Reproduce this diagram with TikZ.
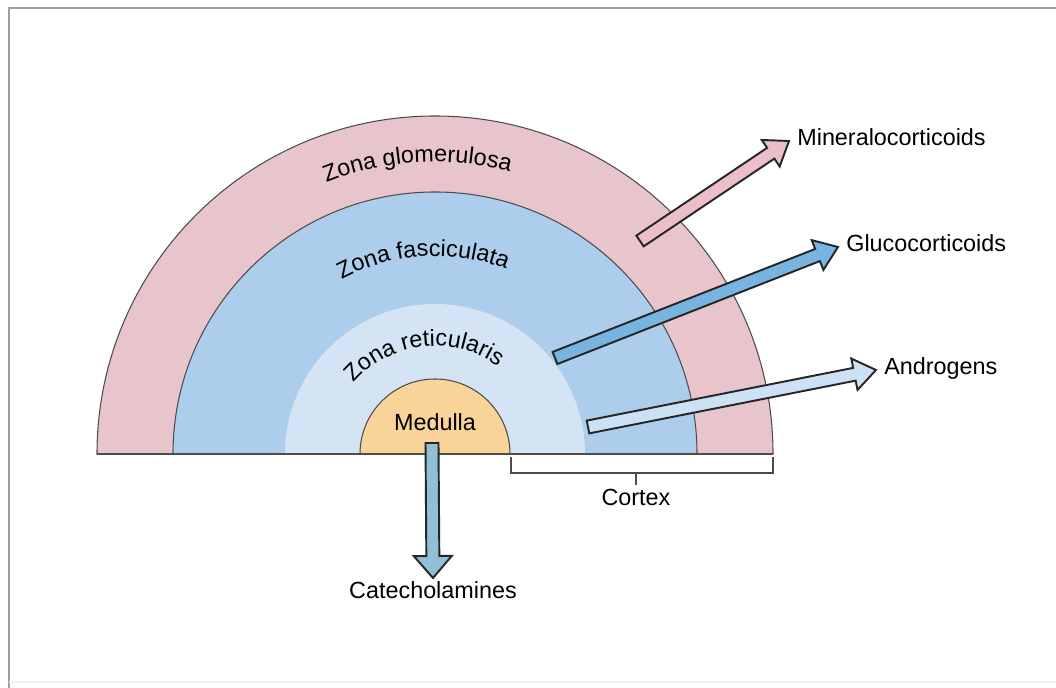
\documentclass[tikz,border=0pt]{standalone}
\usepackage{fontspec}
\setmainfont{Liberation Sans}
\usetikzlibrary{calc, decorations.text}

\definecolor{glomcol}{RGB}{232,196,204}
\definecolor{fasccol}{RGB}{172,205,235}
\definecolor{retcol}{RGB}{212,228,244}
\definecolor{medcol}{RGB}{248,212,152}
\definecolor{minarrow}{RGB}{236,190,202}
\definecolor{gluarrow}{RGB}{120,180,225}
\definecolor{andarrow}{RGB}{205,225,245}
\definecolor{catarrow}{RGB}{145,192,212}

\newcommand{\lblfont}{\fontsize{13.3}{16}\selectfont}
% block arrow: fill colour, tail, tip, half width of the head
\newcommand{\blockarrow}[4]{%
  \coordinate (ahead) at ($(#3)!0.44cm!(#2)$);
  \filldraw[harrow, fill=#1] ($(#2)!0.13cm!90:(#3)$) -- ($(ahead)!0.13cm!90:(#3)$)
    -- ($(ahead)!#4!90:(#3)$) -- (#3) -- ($(ahead)!#4!-90:(#3)$)
    -- ($(ahead)!0.13cm!-90:(#3)$) -- ($(#2)!0.13cm!-90:(#3)$) -- cycle;}

\begin{document}
\begin{tikzpicture}[x=0.02cm, y=-0.02cm,
    zone/.style={draw=black!70, line width=0.6pt},
    harrow/.style={draw=black!85, line width=1.1pt, line join=miter},
    lbl/.style={font=\lblfont, inner sep=0.16cm, text height=0.72em, text depth=0.2em},
    brk/.style={draw=black!70, line width=0.6pt},
    zonetext/.style={decorate, decoration={text along path, text align=center, text={|\lblfont|#1}}}
  ]
  \useasboundingbox (0,0) rectangle (1056,688);
  % frame
  \draw[gray!75, line width=1.4pt] (9,688) -- (9,8) -- (1056,8);
  \draw[gray!12, line width=1pt] (9,682) -- (1056,682);

  \coordinate (c) at (435,454);
  % the zones, outside in
  \filldraw[zone, fill=glomcol] ($(c)+(-338,0)$) arc[start angle=180, end angle=360, radius=338] -- cycle;
  \filldraw[zone, fill=fasccol] ($(c)+(-262,0)$) arc[start angle=180, end angle=360, radius=262] -- cycle;
  \fill[retcol] ($(c)+(-150,0)$) arc[start angle=180, end angle=360, radius=150] -- cycle;
  \filldraw[zone, fill=medcol] ($(c)+(-75,0)$) arc[start angle=180, end angle=360, radius=75] -- cycle;
  \draw[zone] ($(c)+(-338,0)$) -- ($(c)+(338,0)$);

  % zone names along the arcs
  \path[zonetext=Zona glomerulosa] ($(c)+(-292,0)$) arc[start angle=180, end angle=353, radius=292];
  \path[zonetext=Zona fasciculata] ($(c)+(-198,0)$) arc[start angle=180, end angle=353, radius=198];
  \path[zonetext=Zona reticularis] ($(c)+(-108,0)$) arc[start angle=180, end angle=347, radius=108];
  \node[lbl] (medulla) at (435,426) {Medulla};

  % hormones
  \node[lbl, anchor=west] (mineral) at (789,141) {Mineralocorticoids};
  \node[lbl, anchor=west] (gluco) at (838,247) {Glucocorticoids};
  \node[lbl, anchor=west] (andro) at (876,370) {Androgens};
  \node[lbl, anchor=north] (catechol) at (433,578) {Catecholamines};
  \node[lbl, anchor=north] (cortex) at (636,485) {Cortex};

  \coordinate (minsrc) at (640,241);
  \coordinate (glusrc) at (555,358);
  \coordinate (andsrc) at (588,427);
  \coordinate (medsrc) at (432,443);

  \blockarrow{minarrow}{minsrc}{mineral.west}{0.32cm}
  \blockarrow{gluarrow}{glusrc}{gluco.west}{0.32cm}
  \blockarrow{andarrow}{andsrc}{andro.west}{0.32cm}
  \blockarrow{catarrow}{medsrc}{catechol.north}{0.38cm}

  % cortex bracket
  \coordinate (cxtick) at (636,473);
  \draw[brk] ($(c)+(76,3)$) |- ($(c)+(338,19)$) -- ($(c)+(338,3)$);
  \draw[brk] (cxtick) -- (cortex.north);
\end{tikzpicture}
\end{document}
